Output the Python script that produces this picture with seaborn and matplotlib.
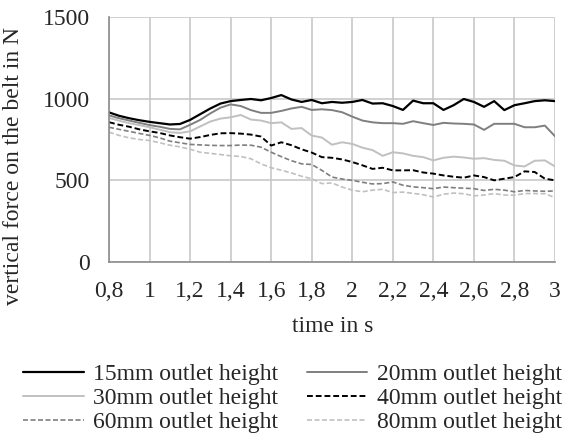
import numpy as np
import pandas as pd
import matplotlib
matplotlib.use("Agg")
import matplotlib.pyplot as plt
import seaborn as sns

# time axis (s)
time = [0.80, 0.85, 0.90, 0.95, 1.00, 1.05, 1.10, 1.15, 1.20, 1.25, 1.30, 1.35,
        1.40, 1.45, 1.50, 1.55, 1.60, 1.65, 1.70, 1.75, 1.80, 1.85, 1.90, 1.95,
        2.00, 2.05, 2.10, 2.15, 2.20, 2.25, 2.30, 2.35, 2.40, 2.45, 2.50, 2.55,
        2.60, 2.65, 2.70, 2.75, 2.80, 2.85, 2.90, 2.95, 3.00]

force_15 = [916, 895, 880, 868, 858, 850, 842, 845, 870, 905, 940, 970,
            985, 992, 998, 990, 1004, 1022, 995, 980, 992, 972, 980, 975,
            980, 992, 970, 972, 955, 931, 988, 972, 972, 931, 960, 998,
            980, 950, 985, 930, 960, 972, 985, 990, 985]
force_20 = [898, 880, 866, 852, 838, 828, 815, 812, 840, 870, 910, 945,
            965, 955, 930, 913, 913, 925, 940, 950, 931, 935, 930, 917,
            890, 866, 855, 850, 850, 846, 862, 850, 839, 852, 848, 846,
            842, 809, 846, 846, 846, 825, 825, 835, 770]
force_30 = [882, 865, 850, 838, 825, 810, 795, 790, 800, 830, 860, 878,
            886, 900, 872, 866, 850, 855, 815, 820, 774, 762, 718, 733,
            723, 700, 685, 650, 672, 665, 650, 642, 622, 638, 645, 640,
            632, 636, 625, 620, 591, 585, 620, 622, 585]
force_40 = [856, 840, 828, 812, 800, 790, 775, 764, 755, 765, 778, 788,
            789, 786, 780, 768, 713, 733, 715, 690, 670, 642, 638, 628,
            612, 592, 570, 577, 561, 561, 562, 548, 541, 530, 522, 516,
            530, 520, 500, 510, 520, 555, 551, 510, 500]
force_60 = [825, 812, 800, 787, 775, 760, 740, 730, 720, 717, 714, 713,
            713, 716, 715, 703, 672, 645, 620, 601, 597, 561, 520, 508,
            500, 488, 478, 480, 490, 470, 460, 455, 449, 459, 455, 452,
            449, 438, 445, 440, 430, 438, 435, 433, 435]
force_80 = [795, 775, 760, 750, 744, 730, 715, 705, 690, 672, 665, 658,
            650, 646, 632, 601, 577, 562, 545, 525, 510, 480, 484, 459,
            440, 430, 440, 445, 425, 428, 420, 412, 398, 415, 422, 418,
            405, 410, 419, 410, 409, 419, 419, 418, 394]

series = {
    "15mm outlet height": force_15,
    "20mm outlet height": force_20,
    "30mm outlet height": force_30,
    "40mm outlet height": force_40,
    "60mm outlet height": force_60,
    "80mm outlet height": force_80,
}
styles = {
    "15mm outlet height": ("black", "-", 1.6),
    "20mm outlet height": ("#7f7f7f", "-", 1.4),
    "30mm outlet height": ("#c0c0c0", "-", 1.4),
    "40mm outlet height": ("black", (0, (3, 1.5)), 1.4),
    "60mm outlet height": ("#7f7f7f", (0, (3, 1.5)), 1.2),
    "80mm outlet height": ("#c0c0c0", (0, (3, 1.5)), 1.2),
}

FS = 17

sns.set_style("white")
plt.rcParams['font.family'] = ['Liberation Serif', 'DejaVu Serif']

fig = plt.figure(figsize=(5.74, 4.41), dpi=100)
ax = fig.add_axes([109 / 574, 1 - 262 / 441, 446 / 574, 245 / 441])

handles = {}
for name, vals in series.items():
    df = pd.DataFrame({"time": time, "force": vals})
    color, ls, lw = styles[name]
    sns.lineplot(data=df, x="time", y="force", ax=ax, color=color,
                 linewidth=lw, label=name, legend=False)
    line = ax.lines[-1]
    line.set_linestyle(ls)
    handles[name] = line

ax.set_xlim(0.8, 3.0)
ax.set_ylim(0, 1500)
xticks = np.round(np.arange(0.8, 3.01, 0.2), 1)
ax.set_xticks(xticks)
ax.set_xticklabels([("%g" % t).replace(".", ",") for t in xticks])
ax.set_yticks([0, 500, 1000, 1500])

ax.grid(True, color="#c8c8c8", linewidth=1.2)
for side in ["top", "right"]:
    ax.spines[side].set_visible(False)
for side in ["left", "bottom"]:
    ax.spines[side].set_color("#8c8c8c")
    ax.spines[side].set_linewidth(1.2)
ax.tick_params(axis="both", length=5, width=1.2, color="#8c8c8c",
               labelsize=FS, direction="out")
ax.tick_params(axis="y", pad=9)
ax.tick_params(axis="x", pad=9)

ax.set_xlabel("time in s", fontsize=FS)
ax.set_ylabel("vertical force on the belt in N", fontsize=FS)
ax.xaxis.set_label_coords(0.502, -0.222)
ax.yaxis.set_label_coords(-0.19, 0.39)

order = ["15mm outlet height", "30mm outlet height", "60mm outlet height",
         "20mm outlet height", "40mm outlet height", "80mm outlet height"]
fig.legend([handles[n] for n in order], order, ncol=2, frameon=False,
           loc="lower center", bbox_to_anchor=(0.51, -0.03), fontsize=FS,
           handlelength=2.55, columnspacing=1.2, labelspacing=0.1,
           handletextpad=0.42)

fig.savefig("out.png", dpi=100)
